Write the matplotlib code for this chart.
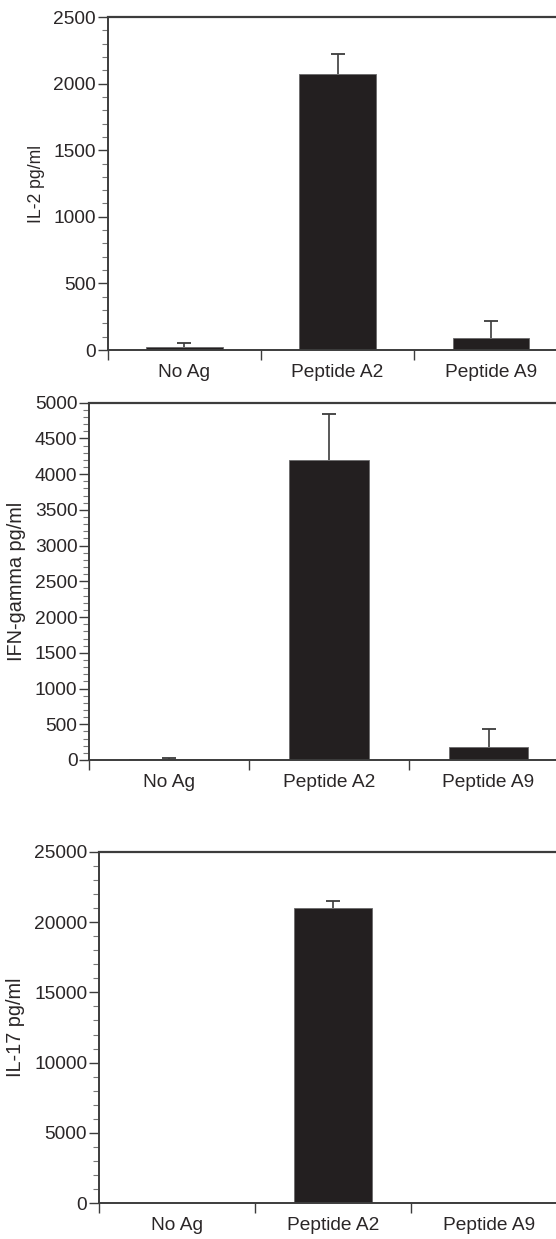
import matplotlib
matplotlib.use("Agg")
import matplotlib.pyplot as plt
from matplotlib.ticker import MultipleLocator, FixedLocator
import numpy as np

plt.rcParams['font.family'] = ['Liberation Sans', 'DejaVu Sans']

categories = ["No Ag", "Peptide A2", "Peptide A9"]

il2_values = [25, 2070, 92]
il2_err = [25, 155, 128]

ifng_values = [15, 4200, 180]
ifng_err = [15, 640, 260]

il17_values = [10, 21000, 100]
il17_err = [0, 470, 0]

panels = [
    dict(vals=il2_values, err=il2_err, label="IL-2 pg/ml", ymax=2500, major=500, minor=100,
         pos=[107.7, 17, 567.6, 350], labx=45, labsize=12.7),
    dict(vals=ifng_values, err=ifng_err, label="IFN-gamma pg/ml", ymax=5000, major=500, minor=100,
         pos=[89.3, 402.7, 568.4, 760], labx=25.5, labsize=14.3),
    dict(vals=il17_values, err=il17_err, label="IL-17 pg/ml", ymax=25000, major=5000, minor=1000,
         pos=[99, 851.7, 567, 1203.3], labx=25.5, labsize=14.3),
]

W, H = 556, 1239
fig = plt.figure(figsize=(W / 100, H / 100), dpi=100)

bar_color = "#231f20"
line_color = "#3c3c3c"
text_color = "#2a2627"

for p in panels:
    x0, y0, x1, y1 = p["pos"]
    ax = fig.add_axes([x0 / W, 1 - y1 / H, (x1 - x0) / W, (y1 - y0) / H])
    x = np.arange(len(categories))
    vals = np.array(p["vals"], dtype=float)
    err = np.array(p["err"], dtype=float)
    # error stems (behind bars) and upper caps only
    ax.errorbar(x, vals, yerr=[np.zeros_like(err), err], fmt="none", ecolor=line_color,
                elinewidth=1.2, capsize=0, zorder=1)
    show = err > 0
    ax.plot(x[show], (vals + err)[show], ls="none", marker="_", ms=9.4, mew=1.3,
            color=line_color, zorder=1)
    ax.bar(x, vals, width=0.5, color=bar_color, edgecolor="#6a6a6a", linewidth=0.6, zorder=2)
    ax.set_xlim(-0.5, 2.5)
    ax.set_ylim(0, p["ymax"])
    ax.spines["right"].set_visible(False)
    for s in ["left", "bottom", "top"]:
        ax.spines[s].set_color(line_color)
        ax.spines[s].set_linewidth(1.4)
    ax.spines["top"].set_linewidth(1.6)
    ax.set_xticks(x)
    ax.set_xticklabels(categories)
    ax.xaxis.set_minor_locator(FixedLocator([-0.5, 0.5, 1.5, 2.5]))
    ax.tick_params(axis="x", which="major", length=0, pad=10, labelsize=13.8, labelcolor=text_color)
    ax.tick_params(axis="x", which="minor", length=7, width=1.0, color=line_color, direction="out")
    ax.yaxis.set_major_locator(MultipleLocator(p["major"]))
    ax.yaxis.set_minor_locator(MultipleLocator(p["minor"]))
    ax.tick_params(axis="y", which="major", length=7, width=1.0, color=line_color, pad=1.5,
                   labelsize=13.8, labelcolor=text_color)
    ax.tick_params(axis="y", which="minor", length=4, width=0.8, color="#777777")
    ax.set_ylabel(p["label"], fontsize=p["labsize"], color=text_color)
    ax.yaxis.set_label_coords((p["labx"] - x0) / (x1 - x0), 0.5)
    for sp in ax.spines.values():
        sp.set_clip_on(False)

fig.savefig("out.png", dpi=100)
